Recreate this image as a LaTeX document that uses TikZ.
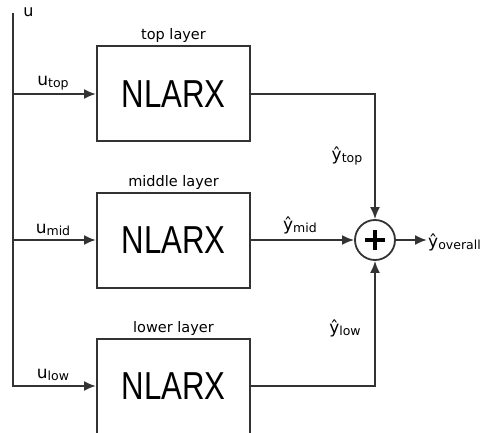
\documentclass[tikz,border=0pt]{standalone}
\usepackage{fontspec}
\setmainfont{DejaVu Sans}
\newfontfamily\blockfont{Liberation Sans}[FakeStretch=0.8]
\usetikzlibrary{arrows.meta}
\newcommand{\sig}[2]{#1\raisebox{-2pt}{\fontsize{12.5}{13}\selectfont #2}}
\tikzset{
  nlarxbox/.style = {draw,line width=2pt,black!80,text=black,minimum width=153pt,
                     minimum height=95pt,inner sep=0pt,font=\blockfont\fontsize{39}{40}\selectfont},
  sumnode/.style  = {draw,circle,line width=1.8pt,black!80,minimum size=40pt,inner sep=0pt},
  sigarr/.style   = {-{Latex[length=12pt,width=10pt]},line width=2pt,black!80},
  pluspen/.style  = {line width=3.2pt,black,line cap=butt},
  siglbl/.style   = {anchor=base,inner sep=0pt,font=\fontsize{17}{19}\selectfont},
  layerlbl/.style = {anchor=base,inner sep=0pt,font=\fontsize{14.5}{16}\selectfont}
}

\begin{document}
\begin{tikzpicture}[x=1pt,y=1pt]
  \useasboundingbox (0,0) rectangle (485,432);
  \clip (0,0) rectangle (485,432);
  % blocks
  \node[nlarxbox] (top) at (173.5,338) {NLARX};
  \node[nlarxbox] (mid) at (173.5,192) {NLARX};
  \node[nlarxbox] (low) at (173.5,46)  {NLARX};
  \node[layerlbl] (toplbl) at ([yshift=6pt]top.north) {top layer};
  \node[layerlbl] (midlbl) at ([yshift=5pt]mid.north) {middle layer};
  \node[layerlbl] (lowlbl) at ([yshift=5pt]low.north) {lower layer};
  \node[sumnode] (sum) at (375,192) {};
  \draw[pluspen] ([xshift=-10pt]sum.center) -- ([xshift=10pt]sum.center);
  \draw[pluspen] ([yshift=-10pt]sum.center) -- ([yshift=10pt]sum.center);
  % input bus
  \coordinate (bustop) at (13,419);
  \node[inner sep=0pt,font=\fontsize{16}{18}\selectfont] (ulbl) at (28.5,420) {u};
  \draw[sigarr] (bustop) |- (low.west);
  \draw[sigarr] (bustop |- top.west) -- (top.west);
  \draw[sigarr] (bustop |- mid.west) -- (mid.west);
  \node[siglbl] (utop) at (53,346) {\sig{u}{top}};
  \node[siglbl] (umid) at (53,199) {\sig{u}{mid}};
  \node[siglbl] (ulow) at (53,54)  {\sig{u}{low}};
  % outputs
  \draw[sigarr] (top.east) -| (sum.north);
  \draw[sigarr] (mid.east) -- (sum.west);
  \draw[sigarr] (low.east) -| (sum.south);
  \node[siglbl] (ytop) at (347,272) {\sig{ŷ}{top}};
  \node[siglbl] (ymid) at (300,202) {\sig{ŷ}{mid}};
  \node[siglbl] (ylow) at (345,99)  {\sig{ŷ}{low}};
  \coordinate (yend) at (427,192);
  \draw[sigarr] (sum.east) -- (yend);
  \node[siglbl,anchor=base west] (yall) at (428,185) {\sig{ŷ}{overall}};
\end{tikzpicture}
\end{document}
